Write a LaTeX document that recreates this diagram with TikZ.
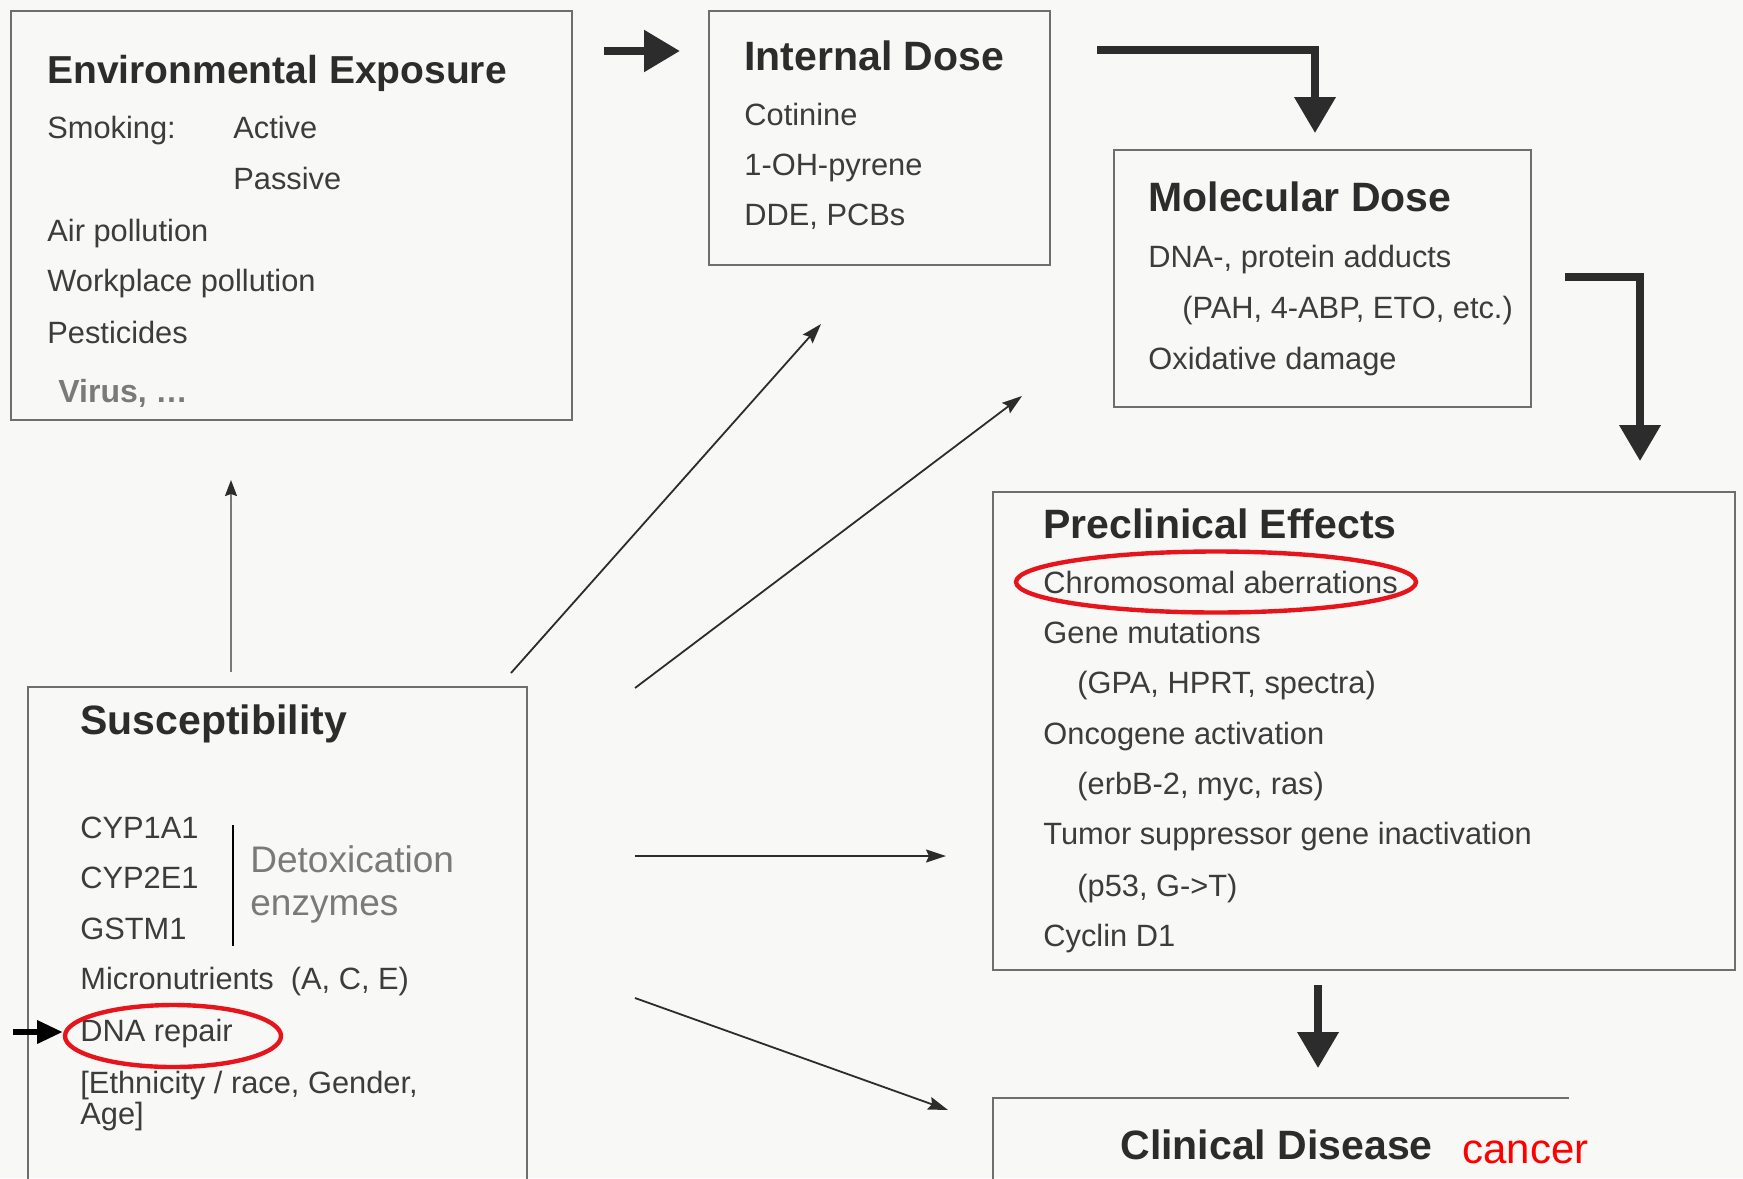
\documentclass[tikz,border=0pt]{standalone}
\usepackage{fontspec}
\setmainfont{Liberation Sans}
\usetikzlibrary{arrows.meta,fit,shapes.geometric}

\definecolor{paper}{HTML}{F8F8F7}
\definecolor{frame}{HTML}{6E6E6E}
\definecolor{ink}{HTML}{2C2C2C}
\definecolor{textgray}{HTML}{3C3C3C}
\definecolor{softgray}{HTML}{7A7A7A}
\definecolor{mark}{HTML}{E8141B}

\begin{document}
\begin{tikzpicture}[x=0.5pt,y=-0.5pt,
  box/.style={draw=frame, line width=1.1pt, inner sep=0pt},
  title/.style={anchor=mid west, inner sep=0pt, text=ink, yshift=-4pt,
    font=\fontsize{20.5}{24}\selectfont\bfseries},
  item/.style={anchor=mid west, inner sep=0pt, text=textgray, yshift=-3pt,
    font=\fontsize{15.4}{18}\selectfont},
  note/.style={anchor=mid west, inner sep=0pt, text=softgray, yshift=-4pt,
    font=\fontsize{18.5}{22}\selectfont},
  bigarrow/.style={draw=ink, line width=3.6pt,
    -{Triangle[length=18pt,width=20pt]}},
  thinarrow/.style={draw=ink, line width=0.9pt,
    -{Stealth[length=10pt,width=6.5pt,inset=1.5pt]}},
  ring/.style={ellipse, draw=mark, line width=2.2pt, inner sep=0pt}
]
\useasboundingbox (0,0) rectangle (1743,1178);
\fill[paper] (0,0) rectangle (1743,1178);
\clip (0,0) rectangle (1743,1178);

% ---- frames ----
\node[box, fit={(11,11) (572,420)}] (env) {};
\node[box, fit={(709,11) (1050,265)}] (internal) {};
\node[box, fit={(1114,150) (1531,407)}] (molecular) {};
\node[box, fit={(993,492) (1735,970)}] (preclin) {};
\node[box, fit={(28,687) (527,1240)}] (suscept) {};
\coordinate (clinTR) at (1569,1098);
\coordinate (clinTL) at (993,1098);
\coordinate (clinBL) at (993,1240);
\draw[frame, line width=1.1pt] (clinTR) -- (clinTL) -- (clinBL);

% ---- Environmental Exposure ----
\node[title, font=\fontsize{19.5}{23}\selectfont\bfseries] (envT) at (47,70) {Environmental Exposure};
\node[item] (smk) at (47,127) {Smoking:};
\node[item] (act) at (233,127) {Active};
\node[item] (pas) at (233,178) {Passive};
\node[item] (air) at (47,230) {Air pollution};
\node[item] (work) at (47,280) {Workplace pollution};
\node[item] (pest) at (47,332) {Pesticides};
\node[item, yshift=-1pt, text=softgray, font=\fontsize{16}{19}\selectfont\bfseries] (virus) at (58,389) {Virus, …};

% ---- Internal Dose ----
\node[title] (intT) at (744,57) {Internal Dose};
\node[item] (cot) at (744,114) {Cotinine};
\node[item] (pyr) at (744,164) {1-OH-pyrene};
\node[item] (dde) at (744,214) {DDE, PCBs};

% ---- Molecular Dose ----
\node[title] (molT) at (1148,198) {Molecular Dose};
\node[item] (add) at (1148,256) {DNA-, protein adducts};
\node[item] (pah) at (1182,307) {(PAH, 4-ABP, ETO, etc.)};
\node[item] (oxi) at (1148,358) {Oxidative damage};

% ---- Preclinical Effects ----
\node[title] (preT) at (1043,525) {Preclinical Effects};
\node[item] (chrom) at (1043,582) {Chromosomal aberrations};
\node[item] (gene) at (1043,632) {Gene mutations};
\node[item] (gpa) at (1077,682) {(GPA, HPRT, spectra)};
\node[item] (onc) at (1043,733) {Oncogene activation};
\node[item] (erb) at (1077,783) {(erbB-2, myc, ras)};
\node[item] (tsg) at (1043,833) {Tumor suppressor gene inactivation};
\node[item] (p53) at (1077,885) {(p53, G->T)};
\node[item] (cyc) at (1043,935) {Cyclin D1};
\node[ring, minimum width=200pt, minimum height=30.5pt] (ringChrom) at (1216,582) {};

% ---- Susceptibility ----
\node[title] (susT) at (80,721) {Susceptibility};
\node[item] (cyp1) at (80,827) {CYP1A1};
\node[item] (cyp2) at (80,877) {CYP2E1};
\node[item] (gst) at (80,928) {GSTM1};
\node[item] (micro) at (80,978) {Micronutrients~~(A, C, E)};
\node[item] (dna) at (80,1030) {DNA repair};
\node[item] (eth) at (80,1082) {[Ethnicity / race, Gender,};
\node[item] (age) at (80,1113) {Age]};
\coordinate (brTop) at (233,825);
\coordinate (brBot) at (233,946);
\draw[black, line width=0.8pt] (brTop) -- (brBot);
\node[note] (detox1) at (250,859) {Detoxication};
\node[note] (detox2) at (250,902) {enzymes};
\node[ring, minimum width=108pt, minimum height=31pt] (ringDna) at (173,1036) {};
\coordinate (dnaA) at (13,1032);
\coordinate (dnaB) at (63,1032);
\draw[black, line width=3.4pt, -{Triangle[length=13pt,width=11pt]}] (dnaA) -- (dnaB);

% ---- Clinical Disease ----
\node[title] (clinT) at (1120,1146) {Clinical Disease};
\node[anchor=mid west, inner sep=0pt, yshift=-4pt, text=red, font=\fontsize{21}{25}\selectfont] (cancer) at (1462,1150) {cancer};

% ---- main chain of thick arrows ----
\coordinate (a1s) at (604,51);
\coordinate (a1e) at (680,51);
\draw[bigarrow, line width=4.2pt] (a1s) -- (a1e);
\coordinate (a2s) at (1097,50);
\coordinate (a2e) at (1315,133);
\draw[bigarrow] (a2s) -| (a2e);
\coordinate (a3s) at (1565,277);
\coordinate (a3e) at (1640,461);
\draw[bigarrow] (a3s) -| (a3e);
\coordinate (a4s) at (1318,985);
\coordinate (a4e) at (1318,1068);
\draw[bigarrow] (a4s) -- (a4e);

% ---- susceptibility influences ----
\coordinate (upS) at (231,672);
\coordinate (upE) at (231,480);
\draw[draw=softgray, line width=0.9pt, -{Stealth[length=8pt,width=6pt,inset=1pt,color=ink]}] (upS) -- (upE);
\coordinate (t1s) at (511,673);
\coordinate (t1e) at (821,324);
\draw[thinarrow] (t1s) -- (t1e);
\coordinate (t2s) at (635,688);
\coordinate (t2e) at (1022,396);
\draw[thinarrow] (t2s) -- (t2e);
\coordinate (t3s) at (635,856);
\coordinate (t3e) at (946,856);
\draw[thinarrow] (t3s) -- (t3e);
\coordinate (t4s) at (635,998);
\coordinate (t4e) at (948,1110);
\draw[thinarrow] (t4s) -- (t4e);
\end{tikzpicture}
\end{document}
